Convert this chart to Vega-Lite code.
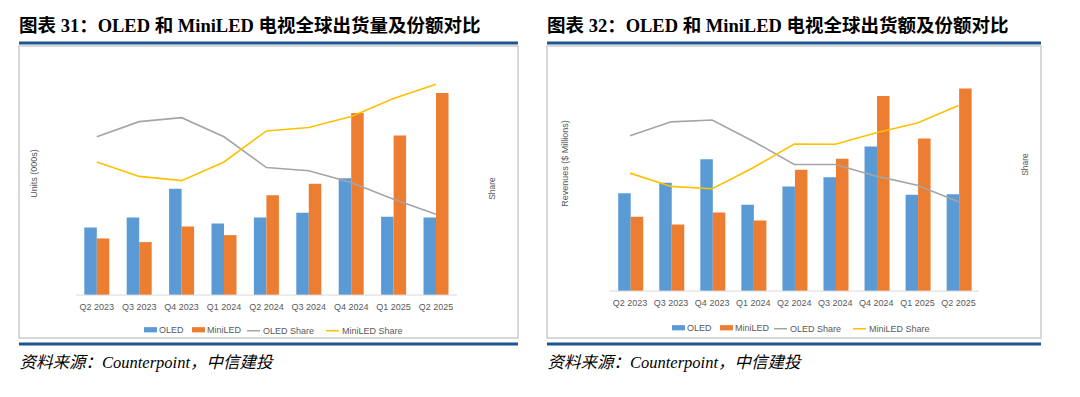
{
  "$schema": "https://vega.github.io/schema/vega-lite/v6.json",
  "background": "white",
  "padding": {"left": 16, "top": 16, "right": 0, "bottom": 0},
  "config": {
    "font": "Liberation Sans",
    "view": {"stroke": "#cccccc", "strokeWidth": 1.5},
    "title": {"font": "'Liberation Serif', 'Noto Sans CJK SC'", "fontSize": 18.5, "fontWeight": "bold", "color": "#000000", "anchor": "start", "frame": "group", "baseline": "alphabetic", "offset": 6},
    "legend": {"orient": "none", "direction": "horizontal", "title": null, "labelFontSize": 9, "labelColor": "#595959", "labelFont": "Liberation Sans", "padding": 0, "labelOffset": 2, "columnPadding": 8, "symbolSize": 169}
  },
  "datasets": {
    "p1bars": [
      {"q": "Q2 2023", "s": "OLED", "v": 203}, {"q": "Q2 2023", "s": "MiniLED", "v": 170},
      {"q": "Q3 2023", "s": "OLED", "v": 233}, {"q": "Q3 2023", "s": "MiniLED", "v": 159},
      {"q": "Q4 2023", "s": "OLED", "v": 319}, {"q": "Q4 2023", "s": "MiniLED", "v": 206},
      {"q": "Q1 2024", "s": "OLED", "v": 215}, {"q": "Q1 2024", "s": "MiniLED", "v": 180},
      {"q": "Q2 2024", "s": "OLED", "v": 233}, {"q": "Q2 2024", "s": "MiniLED", "v": 300},
      {"q": "Q3 2024", "s": "OLED", "v": 247}, {"q": "Q3 2024", "s": "MiniLED", "v": 334},
      {"q": "Q4 2024", "s": "OLED", "v": 351}, {"q": "Q4 2024", "s": "MiniLED", "v": 547},
      {"q": "Q1 2025", "s": "OLED", "v": 235}, {"q": "Q1 2025", "s": "MiniLED", "v": 479},
      {"q": "Q2 2025", "s": "OLED", "v": 233}, {"q": "Q2 2025", "s": "MiniLED", "v": 607}
    ],
    "p1share": [
      {"q": "Q2 2023", "s": "OLED Share", "v": 67.9}, {"q": "Q2 2023", "s": "MiniLED Share", "v": 57.1},
      {"q": "Q3 2023", "s": "OLED Share", "v": 74.4}, {"q": "Q3 2023", "s": "MiniLED Share", "v": 50.9},
      {"q": "Q4 2023", "s": "OLED Share", "v": 76.1}, {"q": "Q4 2023", "s": "MiniLED Share", "v": 49.1},
      {"q": "Q1 2024", "s": "OLED Share", "v": 67.9}, {"q": "Q1 2024", "s": "MiniLED Share", "v": 57.1},
      {"q": "Q2 2024", "s": "OLED Share", "v": 54.7}, {"q": "Q2 2024", "s": "MiniLED Share", "v": 70.4},
      {"q": "Q3 2024", "s": "OLED Share", "v": 53.3}, {"q": "Q3 2024", "s": "MiniLED Share", "v": 71.9},
      {"q": "Q4 2024", "s": "OLED Share", "v": 48.3}, {"q": "Q4 2024", "s": "MiniLED Share", "v": 76.6},
      {"q": "Q1 2025", "s": "OLED Share", "v": 41.1}, {"q": "Q1 2025", "s": "MiniLED Share", "v": 84.3},
      {"q": "Q2 2025", "s": "OLED Share", "v": 34.7}, {"q": "Q2 2025", "s": "MiniLED Share", "v": 90.4}
    ],
    "p2bars": [
      {"q": "Q2 2023", "s": "OLED", "v": 294}, {"q": "Q2 2023", "s": "MiniLED", "v": 223},
      {"q": "Q3 2023", "s": "OLED", "v": 325}, {"q": "Q3 2023", "s": "MiniLED", "v": 200},
      {"q": "Q4 2023", "s": "OLED", "v": 396}, {"q": "Q4 2023", "s": "MiniLED", "v": 236},
      {"q": "Q1 2024", "s": "OLED", "v": 259}, {"q": "Q1 2024", "s": "MiniLED", "v": 212},
      {"q": "Q2 2024", "s": "OLED", "v": 314}, {"q": "Q2 2024", "s": "MiniLED", "v": 364},
      {"q": "Q3 2024", "s": "OLED", "v": 342}, {"q": "Q3 2024", "s": "MiniLED", "v": 397},
      {"q": "Q4 2024", "s": "OLED", "v": 434}, {"q": "Q4 2024", "s": "MiniLED", "v": 586},
      {"q": "Q1 2025", "s": "OLED", "v": 289}, {"q": "Q1 2025", "s": "MiniLED", "v": 458},
      {"q": "Q2 2025", "s": "OLED", "v": 291}, {"q": "Q2 2025", "s": "MiniLED", "v": 608}
    ],
    "p2share": [
      {"q": "Q2 2023", "s": "OLED Share", "v": 66.6}, {"q": "Q2 2023", "s": "MiniLED Share", "v": 50.6},
      {"q": "Q3 2023", "s": "OLED Share", "v": 72.6}, {"q": "Q3 2023", "s": "MiniLED Share", "v": 44.9},
      {"q": "Q4 2023", "s": "OLED Share", "v": 73.4}, {"q": "Q4 2023", "s": "MiniLED Share", "v": 43.9},
      {"q": "Q1 2024", "s": "OLED Share", "v": 64.3}, {"q": "Q1 2024", "s": "MiniLED Share", "v": 52.9},
      {"q": "Q2 2024", "s": "OLED Share", "v": 54.3}, {"q": "Q2 2024", "s": "MiniLED Share", "v": 63.1},
      {"q": "Q3 2024", "s": "OLED Share", "v": 54.3}, {"q": "Q3 2024", "s": "MiniLED Share", "v": 63.0},
      {"q": "Q4 2024", "s": "OLED Share", "v": 49.3}, {"q": "Q4 2024", "s": "MiniLED Share", "v": 67.9},
      {"q": "Q1 2025", "s": "OLED Share", "v": 45.4}, {"q": "Q1 2025", "s": "MiniLED Share", "v": 72.1},
      {"q": "Q2 2025", "s": "OLED Share", "v": 38.3}, {"q": "Q2 2025", "s": "MiniLED Share", "v": 79.6}
    ]
  },
  "spacing": 23,
  "resolve": {"scale": {"fill": "independent", "stroke": "independent"}, "legend": {"fill": "independent", "stroke": "independent"}},
  "hconcat": [
    {
      "width": 499,
      "height": 292,
      "title": {"text": "图表 31：OLED 和 MiniLED 电视全球出货量及份额对比"},
      "resolve": {"scale": {"y": "independent"}},
      "layer": [
        {
          "layer": [
            {
              "data": {"name": "p1bars"},
              "mark": {"type": "bar"},
              "encoding": {
                "x": {"field": "q", "type": "nominal", "sort": null,
                  "scale": {"domain": ["Q2 2023","Q3 2023","Q4 2023","Q1 2024","Q2 2024","Q3 2024","Q4 2024","Q1 2025","Q2 2025"], "range": [56.6, 438.2], "paddingInner": 0, "paddingOuter": 0},
                  "axis": {"title": "资料来源：Counterpoint，中信建投", "offset": -43, "domain": false, "ticks": false, "labelPadding": 7, "labelFontSize": 9, "labelColor": "#595959", "labelAngle": 0,
                    "titleFont": "'Liberation Serif', 'Noto Sans CJK SC'", "titleFontStyle": "italic", "titleFontWeight": "normal", "titleFontSize": 16.5, "titleColor": "#000000",
                    "titleX": 0, "titleY": 72, "titleAlign": "left", "titleAnchor": null, "titleBaseline": "alphabetic"}},
                "xOffset": {"field": "s", "type": "nominal", "sort": ["OLED", "MiniLED"], "scale": {"paddingInner": 0, "paddingOuter": 0.696}},
                "y": {"field": "v", "type": "quantitative", "scale": {"domain": [-129, 748], "nice": false, "zero": false},
                  "axis": {"title": "Units (000s)", "labels": false, "ticks": false, "domain": false, "grid": false, "titleFontSize": 9, "titleFontWeight": "normal", "titleColor": "#595959", "titleX": 14, "titleY": 127, "titleAngle": -90, "titleBaseline": "middle", "titleAlign": "center"}},
                "fill": {"field": "s", "type": "nominal", "scale": {"domain": ["OLED", "MiniLED"], "range": ["#5b9bd5", "#ed7d31"]},
                  "legend": {"legendX": 125, "legendY": 277, "symbolType": "M-1,-0.4H1V0.4H-1Z", "symbolStrokeWidth": 0}}
              }
            },
            {
              "data": {"values": [{"a": 1}]},
              "mark": {"type": "rule", "color": "#d9d9d9", "strokeWidth": 1},
              "encoding": {
                "x": {"datum": "Q2 2023", "bandPosition": 0},
                "x2": {"datum": "Q2 2025", "bandPosition": 1},
                "y": {"datum": 0, "type": "quantitative"}
              }
            },
            {
              "data": {"values": [{"a": 1}]},
              "mark": {"type": "rule", "color": "#1f5591", "strokeWidth": 3, "clip": false},
              "encoding": {"y": {"datum": 757, "type": "quantitative"}}
            },
            {
              "data": {"values": [{"a": 1}]},
              "mark": {"type": "rule", "color": "#1f5591", "strokeWidth": 3, "clip": false},
              "encoding": {"y": {"datum": -147, "type": "quantitative"}}
            }
          ]
        },
        {
          "data": {"name": "p1share"},
          "mark": {"type": "line", "strokeWidth": 1.6},
          "encoding": {
            "x": {"field": "q", "type": "nominal", "sort": null},
            "y": {"field": "v", "type": "quantitative", "scale": {"domain": [-18.43, 106.86], "nice": false, "zero": false},
              "axis": {"orient": "right", "title": "Share", "labels": false, "ticks": false, "domain": false, "grid": false, "titleFontSize": 8.5, "titleFontWeight": "normal", "titleColor": "#595959", "titleX": -27, "titleY": 142, "titleAngle": -90, "titleBaseline": "middle", "titleAlign": "center"}},
            "stroke": {"field": "s", "type": "nominal", "scale": {"domain": ["OLED Share", "MiniLED Share"], "range": ["#a5a5a5", "#ffc000"]},
              "legend": {"legendX": 227, "legendY": 277, "symbolType": "stroke", "symbolStrokeWidth": 1.5}}
          }
        }
      ]
    },
    {
      "width": 494,
      "height": 292,
      "title": {"text": "图表 32：OLED 和 MiniLED 电视全球出货额及份额对比"},
      "resolve": {"scale": {"y": "independent"}},
      "layer": [
        {
          "layer": [
            {
              "data": {"name": "p2bars"},
              "mark": {"type": "bar"},
              "encoding": {
                "x": {"field": "q", "type": "nominal", "sort": null,
                  "scale": {"domain": ["Q2 2023","Q3 2023","Q4 2023","Q1 2024","Q2 2024","Q3 2024","Q4 2024","Q1 2025","Q2 2025"], "range": [62.5, 432], "paddingInner": 0, "paddingOuter": 0},
                  "axis": {"title": "资料来源：Counterpoint，中信建投", "offset": -47, "domain": false, "ticks": false, "labelPadding": 7, "labelFontSize": 9, "labelColor": "#595959", "labelAngle": 0,
                    "titleFont": "'Liberation Serif', 'Noto Sans CJK SC'", "titleFontStyle": "italic", "titleFontWeight": "normal", "titleFontSize": 16.5, "titleColor": "#000000",
                    "titleX": 0, "titleY": 76, "titleAlign": "left", "titleAnchor": null, "titleBaseline": "alphabetic"}},
                "xOffset": {"field": "s", "type": "nominal", "sort": ["OLED", "MiniLED"], "scale": {"paddingInner": 0, "paddingOuter": 0.76}},
                "y": {"field": "v", "type": "quantitative", "scale": {"domain": [-141, 736], "nice": false, "zero": false},
                  "axis": {"title": "Revenues ($ Millions)", "labels": false, "ticks": false, "domain": false, "grid": false, "titleFontSize": 9, "titleFontWeight": "normal", "titleColor": "#595959", "titleX": 17, "titleY": 117, "titleAngle": -90, "titleBaseline": "middle", "titleAlign": "center"}},
                "fill": {"field": "s", "type": "nominal", "scale": {"domain": ["OLED", "MiniLED"], "range": ["#5b9bd5", "#ed7d31"]},
                  "legend": {"legendX": 125, "legendY": 275, "symbolType": "M-1,-0.4H1V0.4H-1Z", "symbolStrokeWidth": 0}}
              }
            },
            {
              "data": {"values": [{"a": 1}]},
              "mark": {"type": "rule", "color": "#d9d9d9", "strokeWidth": 1},
              "encoding": {
                "x": {"datum": "Q2 2023", "bandPosition": 0},
                "x2": {"datum": "Q2 2025", "bandPosition": 1},
                "y": {"datum": 0, "type": "quantitative"}
              }
            },
            {
              "data": {"values": [{"a": 1}]},
              "mark": {"type": "rule", "color": "#1f5591", "strokeWidth": 3, "clip": false},
              "encoding": {"y": {"datum": 745, "type": "quantitative"}}
            },
            {
              "data": {"values": [{"a": 1}]},
              "mark": {"type": "rule", "color": "#1f5591", "strokeWidth": 3, "clip": false},
              "encoding": {"y": {"datum": -159, "type": "quantitative"}}
            }
          ]
        },
        {
          "data": {"name": "p2share"},
          "mark": {"type": "line", "strokeWidth": 1.6},
          "encoding": {
            "x": {"field": "q", "type": "nominal", "sort": null},
            "y": {"field": "v", "type": "quantitative", "scale": {"domain": [-20.14, 105.14], "nice": false, "zero": false},
              "axis": {"orient": "right", "title": "Share", "labels": false, "ticks": false, "domain": false, "grid": false, "titleFontSize": 8.5, "titleFontWeight": "normal", "titleColor": "#595959", "titleX": -17, "titleY": 118, "titleAngle": -90, "titleBaseline": "middle", "titleAlign": "center"}},
            "stroke": {"field": "s", "type": "nominal", "scale": {"domain": ["OLED Share", "MiniLED Share"], "range": ["#a5a5a5", "#ffc000"]},
              "legend": {"legendX": 226, "legendY": 275, "symbolType": "stroke", "symbolStrokeWidth": 1.5}}
          }
        }
      ]
    }
  ]
}
